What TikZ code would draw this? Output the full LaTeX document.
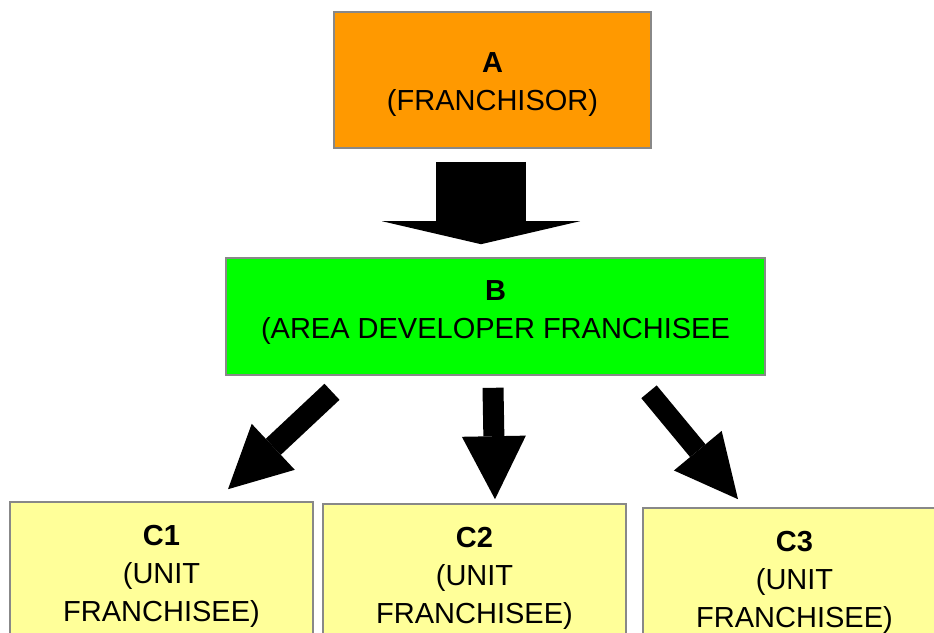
\documentclass[tikz,border=0pt]{standalone}
\usepackage{fontspec}
\setmainfont{Liberation Sans}
\usetikzlibrary{arrows.meta,calc}

\definecolor{franchorange}{HTML}{FF9900}
\definecolor{devgreen}{HTML}{00FF00}
\definecolor{unityellow}{HTML}{FFFF99}
\definecolor{boxgray}{HTML}{888888}

\begin{document}
\begin{tikzpicture}[x=1pt,y=-1pt,
    box/.style={draw=boxgray, line width=1.6pt, inner sep=0pt},
    boxtext/.style={font=\fontsize{29}{38}\selectfont, align=center, yshift=#1},
    fatarrow/.style n args={3}{line width=#1, -{Triangle[width=#2,length=#3,line width=0pt]}}]
          \useasboundingbox (0,0) rectangle (934,632);
          \node[box, fill=franchorange, minimum width=317pt, minimum height=136pt,
            label={[boxtext=-5pt]center:\textbf{A}\\(FRANCHISOR)}] (A) at (492.5,80) {};
          \node[box, fill=devgreen, minimum width=539pt, minimum height=117pt,
            label={[boxtext=4pt]center:\textbf{B}\\(AREA DEVELOPER FRANCHISEE}] (B) at (495.5,316.5) {};
          \node[box, fill=unityellow, minimum width=303pt, minimum height=142pt,
            label={[boxtext=-3.5pt]center:\textbf{C1}\\(UNIT\\FRANCHISEE)}] (C1) at (161.5,573) {};
          \node[box, fill=unityellow, minimum width=303pt, minimum height=142pt,
            label={[boxtext=-3.5pt]center:\textbf{C2}\\(UNIT\\FRANCHISEE)}] (C2) at (474.5,575) {};
          \node[box, fill=unityellow, minimum width=303pt, minimum height=142pt,
            label={[boxtext=-3.5pt]center:\textbf{C3}\\(UNIT\\FRANCHISEE)}] (C3) at (794.5,579) {};
          \draw[fatarrow={90pt}{198pt}{23pt}] ($(A.south)+(-11.5,13)$) -- ($(B.north)+(-14.5,-13)$);
          \draw[fatarrow={22pt}{63pt}{62pt}] ($(B.south)+(-163.5,16)$) -- ($(C1.north)+(66.5,-12)$);
          \draw[fatarrow={21pt}{64pt}{63pt}] ($(B.south)+(-2.5,12)$) -- ($(C2.north)+(20.5,-4)$);
          \draw[fatarrow={20pt}{62pt}{63pt}] ($(B.south)+(153.5,16)$) -- ($(C3.north)+(-56.5,-8)$);
        \end{tikzpicture}
\end{document}
